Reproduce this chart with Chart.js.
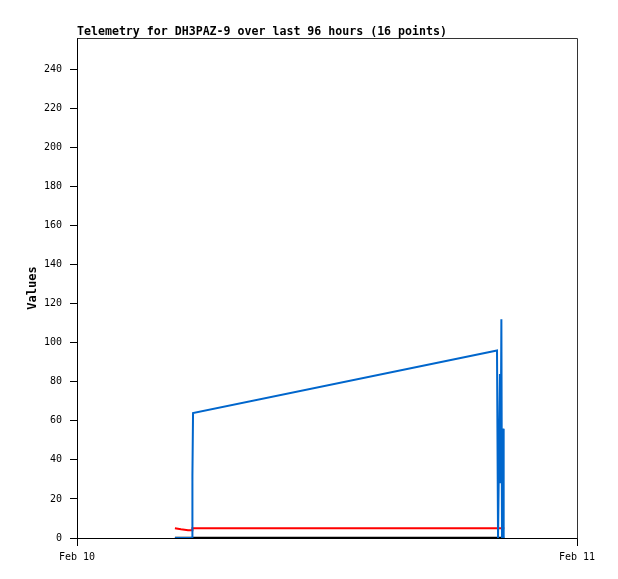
<!DOCTYPE html>
<html>
<head>
<meta charset="utf-8">
<script src="https://cdn.jsdelivr.net/npm/chart.js@4"></script>
<style>
  html, body { margin: 0; padding: 0; background: #fff; }
  #wrap { width: 618px; height: 579px; }
</style>
</head>
<body>
<div id="wrap"><canvas id="telemetry" width="618" height="579"></canvas></div>
<script>
// hours since Feb 10 00:00 for each sample
const times = [4.70, 4.99, 5.33, 5.52, 5.54, 5.57, 20.16, 20.21, 20.30, 20.33, 20.37, 20.40, 20.45, 20.48, 20.51, 20.54];
const blueValues = [0, 0, 0, 0, 32, 64, 96, 0, 84, 28, 112, 0, 56, 0, 0, 0];
const redValues = [5, 4.5, 4, 4, 5, 5, 5, 5, 5, 5, 5, 5, 5, 5, 5, 5];
const blackValues = [0, 0, 0, 0, 0, 0, 0, 0, 0, 0, 0, 0, 0, 0, 0, 0];

const xTickValues = [0, 24];
const xTickLabels = ['Feb 10', 'Feb 11'];
const titleText = 'Telemetry for DH3PAZ-9 over last 96 hours (16 points)';

const MONO = '"DejaVu Sans Mono", "Liberation Mono", monospace';

function toPoints(vals) {
    return vals.map((v, i) => ({ x: times[i], y: v }));
}

// frame + title, the gnuplot look
const framePlugin = {
    id: 'frame',
    afterDraw(chart) {
        const { ctx, chartArea: a } = chart;
        ctx.save();
        ctx.strokeStyle = '#333';
        ctx.lineWidth = 1;
        ctx.beginPath();
        ctx.moveTo(a.left + 0.5, a.top + 0.5);
        ctx.lineTo(a.right + 0.5, a.top + 0.5);
        ctx.lineTo(a.right + 0.5, a.bottom + 0.5);
        ctx.stroke();
        ctx.fillStyle = '#000';
        ctx.font = 'bold 11.6px ' + MONO;
        ctx.textAlign = 'left';
        ctx.textBaseline = 'alphabetic';
        ctx.fillText(titleText, a.left, a.top - 3);
        ctx.restore();
    }
};

new Chart(document.getElementById('telemetry'), {
    type: 'line',
    data: {
        datasets: [
            {
                label: 'blue',
                data: toPoints(blueValues),
                borderColor: '#0066cc',
                borderWidth: 2,
                pointRadius: 0,
                tension: 0
            },
            {
                label: 'red',
                data: toPoints(redValues),
                borderColor: '#ff0000',
                borderWidth: 2,
                pointRadius: 0,
                tension: 0
            },
            {
                label: 'black',
                data: toPoints(blackValues),
                borderColor: '#000000',
                borderWidth: 2.5,
                pointRadius: 0,
                tension: 0
            }
        ]
    },
    options: {
        responsive: false,
        animation: false,
        layout: { padding: { left: 0, right: 41, top: 38, bottom: 0 } },
        plugins: {
            legend: { display: false },
            tooltip: { enabled: false }
        },
        scales: {
            x: {
                type: 'linear',
                min: 0,
                max: 24,
                afterBuildTicks(scale) {
                    scale.ticks = xTickValues.map(v => ({ value: v }));
                },
                afterFit(scale) { scale.height = 41; },
                ticks: {
                    color: '#000',
                    font: { family: MONO, size: 10 },
                    padding: 5,
                    maxRotation: 0,
                    autoSkip: false,
                    callback: (v) => xTickLabels[xTickValues.indexOf(v)]
                },
                grid: { drawOnChartArea: false, tickLength: 8, color: '#000' },
                border: { color: '#000', width: 1 }
            },
            y: {
                min: 0,
                max: 256,
                afterFit(scale) { scale.width = 77; },
                ticks: {
                    stepSize: 20,
                    includeBounds: false,
                    color: '#000',
                    font: { family: MONO, size: 10 },
                    padding: 8
                },
                grid: { drawOnChartArea: false, tickLength: 7, color: '#000' },
                border: { color: '#000', width: 1 },
                title: {
                    display: true,
                    text: 'Values',
                    color: '#000',
                    font: { family: MONO, size: 12, weight: 'bold' },
                    padding: { top: 26, bottom: 0 }
                }
            }
        }
    },
    plugins: [framePlugin]
});
</script>
</body>
</html>
